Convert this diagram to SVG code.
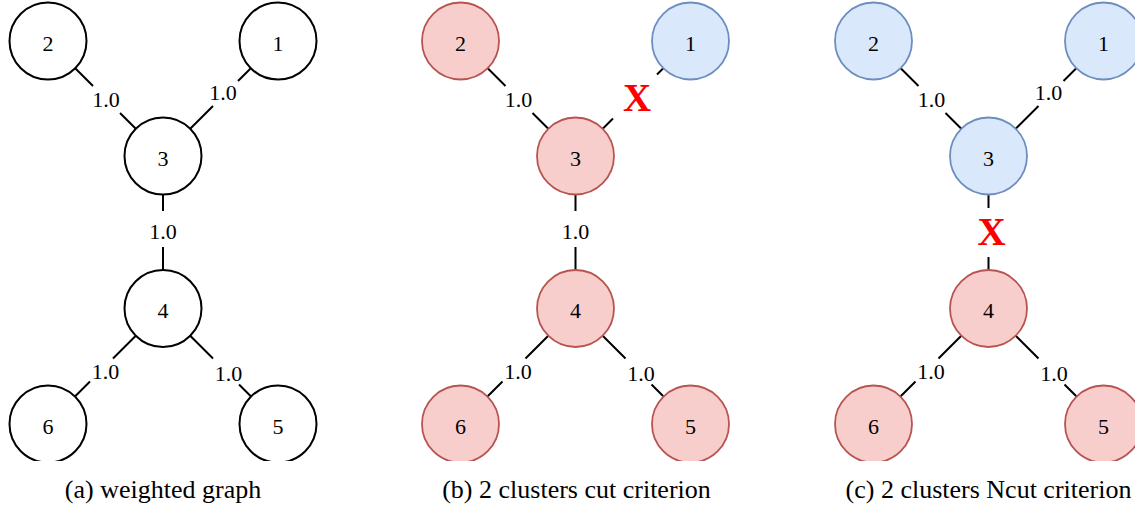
<svg xmlns="http://www.w3.org/2000/svg" width="1135" height="513" viewBox="0 0 1135 513">
<style>
  .n { stroke-width: 1.8; }
  .w { fill: #ffffff; stroke: #000000; stroke-width: 2; }
  .r { fill: #f8cecc; stroke: #b85450; }
  .b { fill: #dae8fc; stroke: #6c8ebf; }
  .t { font-family: "Liberation Serif", "Times New Roman", serif; font-size: 22px; fill: #000000; text-anchor: middle; }
  .e { stroke: #000000; stroke-width: 2; fill: none; }
  .x { font-family: "Liberation Serif", "Times New Roman", serif; font-size: 39px; font-weight: bold; fill: #ff0000; text-anchor: middle; }
  .cap { font-family: "Liberation Serif", "Times New Roman", serif; font-size: 26px; fill: #000000; text-anchor: middle; }
</style>
<defs>
  <clipPath id="clip"><rect x="0" y="0" width="1135" height="461"/></clipPath>
</defs>
<rect x="0" y="0" width="1135" height="513" fill="#ffffff"/>
<g clip-path="url(#clip)">
  <!-- Panel (a) -->
  <g id="panel-a">
    <g id="connectors-a">
      <path class="e" d="M75.2,68.2 L93,86 M120,113 L135.8,128.8"/>
      <text class="t" x="106" y="107">1.0</text>
      <path class="e" d="M250.8,68.2 L238,81 M213,106 L190.2,128.8"/>
      <text class="t" x="223" y="100">1.0</text>
      <path class="e" d="M163,194.5 L163,211 M163,247 L163,270"/>
      <text class="t" x="163" y="239">1.0</text>
      <path class="e" d="M135.8,335.7 L113,358.5 M90,381.5 L75.2,396.3"/>
      <text class="t" x="105.5" y="379">1.0</text>
      <path class="e" d="M190.2,335.7 L213,358.5 M239,384.5 L250.8,396.3"/>
      <text class="t" x="228.5" y="381">1.0</text>
    </g>
    <g id="a-n1"><circle class="w" cx="278" cy="41" r="38.5"/><text class="t" x="278" y="50.5">1</text></g>
    <g id="a-n2"><circle class="w" cx="48" cy="41" r="38.5"/><text class="t" x="48" y="50.5">2</text></g>
    <g id="a-n3"><circle class="w" cx="163" cy="156" r="38.5"/><text class="t" x="163" y="165.5">3</text></g>
    <g id="a-n4"><circle class="w" cx="163" cy="308.5" r="38.5"/><text class="t" x="163" y="318">4</text></g>
    <g id="a-n5"><circle class="w" cx="278" cy="424" r="38.5"/><text class="t" x="278" y="433.5">5</text></g>
    <g id="a-n6"><circle class="w" cx="48" cy="424" r="38.5"/><text class="t" x="48" y="433.5">6</text></g>
  </g>
  <!-- Panel (b) -->
  <g id="panel-b" transform="translate(412.5,0)">
    <g id="connectors-b">
      <path class="e" d="M75.2,68.2 L93,86 M120,113 L135.8,128.8"/>
      <text class="t" x="106" y="107">1.0</text>
      <path class="e" d="M250.8,68.2 L244.5,74.5 M200.5,118.5 L190.2,128.8"/>
      <text class="x" x="224.5" y="111">X</text>
      <path class="e" d="M163,194.5 L163,211 M163,247 L163,270"/>
      <text class="t" x="163" y="239">1.0</text>
      <path class="e" d="M135.8,335.7 L113,358.5 M90,381.5 L75.2,396.3"/>
      <text class="t" x="105.5" y="379">1.0</text>
      <path class="e" d="M190.2,335.7 L213,358.5 M239,384.5 L250.8,396.3"/>
      <text class="t" x="228.5" y="381">1.0</text>
    </g>
    <g id="b-n1"><circle class="n b" cx="278" cy="41" r="38.5"/><text class="t" x="278" y="50.5">1</text></g>
    <g id="b-n2"><circle class="n r" cx="48" cy="41" r="38.5"/><text class="t" x="48" y="50.5">2</text></g>
    <g id="b-n3"><circle class="n r" cx="163" cy="156" r="38.5"/><text class="t" x="163" y="165.5">3</text></g>
    <g id="b-n4"><circle class="n r" cx="163" cy="308.5" r="38.5"/><text class="t" x="163" y="318">4</text></g>
    <g id="b-n5"><circle class="n r" cx="278" cy="424" r="38.5"/><text class="t" x="278" y="433.5">5</text></g>
    <g id="b-n6"><circle class="n r" cx="48" cy="424" r="38.5"/><text class="t" x="48" y="433.5">6</text></g>
  </g>
  <!-- Panel (c) -->
  <g id="panel-c" transform="translate(825.5,0)">
    <g id="connectors-c">
      <path class="e" d="M75.2,68.2 L93,86 M120,113 L135.8,128.8"/>
      <text class="t" x="106" y="107">1.0</text>
      <path class="e" d="M250.8,68.2 L238,81 M213,106 L190.2,128.8"/>
      <text class="t" x="223" y="100">1.0</text>
      <path class="e" d="M163,194.5 L163,208 M163,257 L163,270"/>
      <text class="x" x="166" y="245">X</text>
      <path class="e" d="M135.8,335.7 L113,358.5 M90,381.5 L75.2,396.3"/>
      <text class="t" x="105.5" y="379">1.0</text>
      <path class="e" d="M190.2,335.7 L213,358.5 M239,384.5 L250.8,396.3"/>
      <text class="t" x="228.5" y="381">1.0</text>
    </g>
    <g id="c-n1"><circle class="n b" cx="278" cy="41" r="38.5"/><text class="t" x="278" y="50.5">1</text></g>
    <g id="c-n2"><circle class="n b" cx="48" cy="41" r="38.5"/><text class="t" x="48" y="50.5">2</text></g>
    <g id="c-n3"><circle class="n b" cx="163" cy="156" r="38.5"/><text class="t" x="163" y="165.5">3</text></g>
    <g id="c-n4"><circle class="n r" cx="163" cy="308.5" r="38.5"/><text class="t" x="163" y="318">4</text></g>
    <g id="c-n5"><circle class="n r" cx="278" cy="424" r="38.5"/><text class="t" x="278" y="433.5">5</text></g>
    <g id="c-n6"><circle class="n r" cx="48" cy="424" r="38.5"/><text class="t" x="48" y="433.5">6</text></g>
  </g>
</g>
<g id="captions">
  <text class="cap" x="163" y="498">(a) weighted graph</text>
  <text class="cap" x="576.5" y="498">(b) 2 clusters cut criterion</text>
  <text class="cap" x="988.5" y="498">(c) 2 clusters Ncut criterion</text>
</g>
</svg>
